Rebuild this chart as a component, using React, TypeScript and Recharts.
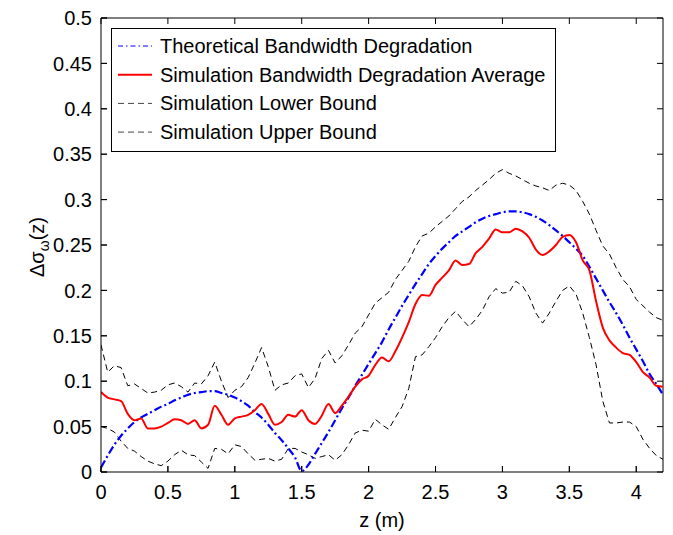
import React from 'react';
import { LineChart, Line, XAxis, YAxis, Legend, ReferenceLine } from 'recharts';

const zValues = [
  0, 0.05, 0.1, 0.15, 0.2, 0.25, 0.3, 0.35, 0.4, 0.45,
  0.5, 0.55, 0.6, 0.65, 0.7, 0.75, 0.8, 0.85, 0.9, 0.95,
  1.0, 1.05, 1.1, 1.15, 1.2, 1.25, 1.3, 1.35, 1.4, 1.45,
  1.5, 1.55, 1.6, 1.65, 1.7, 1.75, 1.8, 1.85, 1.9, 1.95,
  2.0, 2.05, 2.1, 2.15, 2.2, 2.25, 2.3, 2.35, 2.4, 2.45,
  2.5, 2.55, 2.6, 2.65, 2.7, 2.75, 2.8, 2.85, 2.9, 2.95,
  3.0, 3.05, 3.1, 3.15, 3.2, 3.25, 3.3, 3.35, 3.4, 3.45,
  3.5, 3.55, 3.6, 3.65, 3.7, 3.75, 3.8, 3.85, 3.9, 3.95,
  4.0, 4.05, 4.1, 4.15, 4.2,
];

const theoretical = [
  0.005, 0.018, 0.03, 0.04, 0.048, 0.055, 0.06, 0.064, 0.068, 0.072,
  0.075, 0.079, 0.082, 0.085, 0.087, 0.088, 0.089, 0.089, 0.087, 0.085,
  0.082, 0.078, 0.073, 0.066, 0.06, 0.052, 0.043, 0.035, 0.026, 0.016,
  0.001, 0.008, 0.02, 0.032, 0.044, 0.057, 0.07, 0.082, 0.095, 0.107,
  0.119, 0.131, 0.143, 0.157, 0.17, 0.183, 0.195, 0.207, 0.218, 0.229,
  0.238, 0.246, 0.253, 0.26, 0.265, 0.27, 0.275, 0.279, 0.282, 0.284,
  0.286, 0.287, 0.287, 0.286, 0.284, 0.281, 0.277, 0.272, 0.266, 0.26,
  0.253, 0.246, 0.238, 0.226, 0.213, 0.2, 0.187, 0.175, 0.162, 0.148,
  0.135, 0.122, 0.108, 0.097, 0.085,
];

const simAverage = [
  0.088, 0.082, 0.08, 0.078, 0.064, 0.057, 0.059, 0.048, 0.048, 0.05,
  0.054, 0.058, 0.057, 0.053, 0.057, 0.048, 0.052, 0.073, 0.063, 0.052,
  0.059, 0.061, 0.063, 0.068, 0.075, 0.064, 0.052, 0.055, 0.063, 0.061,
  0.068, 0.057, 0.053, 0.062, 0.075, 0.065, 0.073, 0.083, 0.094, 0.102,
  0.106, 0.118, 0.126, 0.122, 0.133, 0.148, 0.165, 0.185, 0.195, 0.194,
  0.206, 0.214, 0.222, 0.233, 0.228, 0.229, 0.241, 0.248, 0.257, 0.267,
  0.264, 0.264, 0.268, 0.265, 0.258, 0.245, 0.239, 0.243, 0.25, 0.259,
  0.261, 0.253, 0.233, 0.222, 0.188, 0.159, 0.145, 0.137, 0.131, 0.129,
  0.121, 0.11, 0.104, 0.095, 0.094,
];

const simLower = [
  0.05, 0.048, 0.044, 0.034, 0.026, 0.023, 0.017, 0.012, 0.009, 0.007,
  0.012, 0.019, 0.024, 0.019, 0.018, 0.011, 0.004, 0.026, 0.025, 0.02,
  0.03, 0.028, 0.02, 0.013, 0.014, 0.015, 0.012, 0.014, 0.026, 0.026,
  0.022, 0.019, 0.015, 0.017, 0.019, 0.013, 0.019, 0.03, 0.043, 0.046,
  0.045, 0.058, 0.052, 0.047, 0.06, 0.072, 0.092, 0.127, 0.129, 0.138,
  0.148, 0.16, 0.17, 0.177, 0.168, 0.16, 0.168, 0.178, 0.193, 0.202,
  0.197, 0.198, 0.21, 0.205, 0.193, 0.175, 0.164, 0.175, 0.188, 0.2,
  0.205, 0.196, 0.175, 0.148, 0.118, 0.078, 0.054, 0.054, 0.055, 0.055,
  0.05, 0.036, 0.026, 0.018, 0.014,
];

const simUpper = [
  0.14, 0.11, 0.117, 0.115, 0.095, 0.097, 0.092, 0.087, 0.088, 0.09,
  0.096, 0.098, 0.094, 0.088, 0.098, 0.097, 0.106, 0.121, 0.1, 0.082,
  0.09, 0.094, 0.104, 0.12, 0.137, 0.116, 0.09, 0.096, 0.098, 0.106,
  0.108, 0.093, 0.103, 0.125, 0.134, 0.12, 0.128, 0.14, 0.153, 0.16,
  0.173, 0.186, 0.192, 0.198, 0.212, 0.222, 0.232, 0.248, 0.26, 0.263,
  0.27, 0.276, 0.282, 0.29, 0.298, 0.303, 0.31, 0.316, 0.322, 0.329,
  0.333, 0.329, 0.326, 0.322, 0.318, 0.315, 0.313, 0.31, 0.316, 0.318,
  0.316, 0.31, 0.298, 0.284, 0.266, 0.249, 0.24, 0.225, 0.212, 0.204,
  0.19, 0.183, 0.176, 0.17, 0.167,
];

const xTicks = [0, 0.5, 1, 1.5, 2, 2.5, 3, 3.5, 4];
const yTicks = [0, 0.05, 0.1, 0.15, 0.2, 0.25, 0.3, 0.35, 0.4, 0.45, 0.5];

const seriesNames = [
  'Theoretical Bandwidth Degradation',
  'Simulation Bandwidth Degradation Average',
  'Simulation Lower Bound',
  'Simulation Upper Bound',
];
const seriesKeys = ['theo', 'avg', 'lower', 'upper'];

const X_MIN = 0;
const X_MAX = 4.2;
const Y_MIN = 0;
const Y_MAX = 0.5;
// inward tick length (6px) expressed in data units of each axis
const X_TICK_LEN = 0.045;
const Y_TICK_LEN = 0.0066;

const FONT = '"Liberation Sans", Arial, Helvetica, sans-serif';

const styles: Record<string, { stroke: string; width: number; dash?: string; type: 'monotone' | 'linear'; legendWidth: number }> = {
  theo: { stroke: '#0000ff', width: 2.2, dash: '8 3 2 3', type: 'monotone', legendWidth: 1.2 },
  avg: { stroke: '#ff0000', width: 2, type: 'monotone', legendWidth: 2 },
  lower: { stroke: '#000000', width: 1, dash: '6 4', type: 'linear', legendWidth: 1 },
  upper: { stroke: '#000000', width: 1, dash: '6 4', type: 'linear', legendWidth: 1 },
};

const data = zValues.map((z, i) => ({
  z,
  theo: theoretical[i],
  avg: simAverage[i],
  lower: simLower[i],
  upper: simUpper[i],
}));

const renderLegend = () => (
  <svg width={445} height={124} style={{ display: 'block', fontFamily: FONT }}>
    <rect x={0.5} y={0.5} width={444} height={123} fill="#fff" stroke="#000" strokeWidth={1} />
    {seriesKeys.map((k, i) => {
      const s = styles[k];
      const cy = 18 + i * 28.7;
      return (
        <g key={k}>
          <line
            x1={7}
            x2={41}
            y1={cy}
            y2={cy}
            stroke={k === 'lower' || k === 'upper' ? '#444' : s.stroke}
            strokeWidth={s.legendWidth}
            strokeDasharray={k === 'theo' ? '5 3 1.5 3' : s.dash}
          />
          <text x={49} y={cy + 7} fontSize={20} fill="#000">
            {seriesNames[i]}
          </text>
        </g>
      );
    })}
  </svg>
);

const renderYLabel = () => (
  <text
    x={0}
    y={0}
    transform="translate(44,247) rotate(-90)"
    textAnchor="middle"
    fontSize={20}
    fontFamily={FONT}
    fill="#000"
  >
    Δσ
    <tspan fontSize={14} dy={5}>ω</tspan>
    <tspan dy={-5}>(z)</tspan>
  </text>
);

const tickStyle = { fontSize: 20, fill: '#000', fontFamily: FONT };

export default function App() {
  return (
    <div style={{ position: 'absolute', left: 0, top: 0, fontFamily: FONT }}>
      <LineChart
        width={673}
        height={535}
        data={data}
        margin={{ top: 18, right: 10, left: 0, bottom: 0 }}
        style={{ background: '#fff' }}
      >
        <XAxis
          dataKey="z"
          type="number"
          domain={[X_MIN, X_MAX]}
          ticks={xTicks}
          allowDataOverflow
          height={63}
          tickSize={-6}
          tickMargin={19}
          tick={tickStyle}
          stroke="#000"
          axisLine={{ stroke: '#000' }}
          tickLine={{ stroke: '#000' }}
          label={{ value: 'z (m)', position: 'insideBottom', offset: 8, fontSize: 20, fill: '#000', fontFamily: FONT }}
        />
        <YAxis
          type="number"
          domain={[Y_MIN, Y_MAX]}
          ticks={yTicks}
          allowDataOverflow
          width={101}
          tickSize={-6}
          tickMargin={15}
          tick={tickStyle}
          stroke="#000"
          axisLine={{ stroke: '#000' }}
          tickLine={{ stroke: '#000' }}
          label={renderYLabel}
        />
        {/* box: top and right borders */}
        <ReferenceLine y={Y_MAX} stroke="#000" strokeWidth={1} ifOverflow="visible" />
        <ReferenceLine x={X_MAX} stroke="#000" strokeWidth={1} ifOverflow="visible" />
        {/* inward ticks on all four sides */}
        {xTicks.map((t) => (
          <ReferenceLine
            key={`xb${t}`}
            segment={[{ x: t, y: Y_MIN }, { x: t, y: Y_MIN + Y_TICK_LEN }]}
            stroke="#000"
            ifOverflow="visible"
          />
        ))}
        {xTicks.map((t) => (
          <ReferenceLine
            key={`xt${t}`}
            segment={[{ x: t, y: Y_MAX }, { x: t, y: Y_MAX - Y_TICK_LEN }]}
            stroke="#000"
            ifOverflow="visible"
          />
        ))}
        {yTicks.map((t) => (
          <ReferenceLine
            key={`yl${t}`}
            segment={[{ x: X_MIN, y: t }, { x: X_MIN + X_TICK_LEN, y: t }]}
            stroke="#000"
            ifOverflow="visible"
          />
        ))}
        {yTicks.map((t) => (
          <ReferenceLine
            key={`yr${t}`}
            segment={[{ x: X_MAX, y: t }, { x: X_MAX - X_TICK_LEN, y: t }]}
            stroke="#000"
            ifOverflow="visible"
          />
        ))}
        <Legend
          layout="vertical"
          align="center"
          verticalAlign="middle"
          content={renderLegend}
          wrapperStyle={{ left: 111, top: 28, width: 445, height: 124 }}
        />
        {['lower', 'upper', 'theo', 'avg'].map((k) => (
          <Line
            key={k}
            dataKey={k}
            name={seriesNames[seriesKeys.indexOf(k)]}
            type={styles[k].type}
            stroke={styles[k].stroke}
            strokeWidth={styles[k].width}
            strokeDasharray={styles[k].dash}
            dot={false}
            activeDot={false}
            isAnimationActive={false}
          />
        ))}
      </LineChart>
    </div>
  );
}
